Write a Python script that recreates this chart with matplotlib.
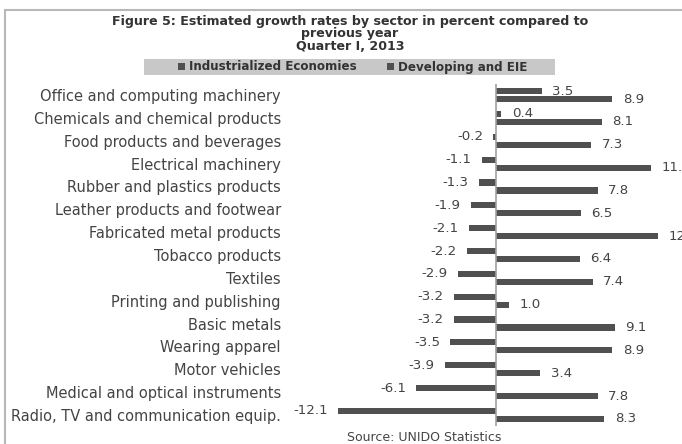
import matplotlib
matplotlib.use("Agg")
import matplotlib.pyplot as plt
from matplotlib.patches import Rectangle, Patch

categories = [
    "Office and computing machinery",
    "Chemicals and chemical products",
    "Food products and beverages",
    "Electrical machinery",
    "Rubber and plastics products",
    "Leather products and footwear",
    "Fabricated metal products",
    "Tobacco products",
    "Textiles",
    "Printing and publishing",
    "Basic metals",
    "Wearing apparel",
    "Motor vehicles",
    "Medical and optical instruments",
    "Radio, TV and communication equip.",
]
industrialized = [3.5, 0.4, -0.2, -1.1, -1.3, -1.9, -2.1, -2.2, -2.9, -3.2, -3.2, -3.5, -3.9, -6.1, -12.1]
developing = [8.9, 8.1, 7.3, 11.9, 7.8, 6.5, 12.4, 6.4, 7.4, 1.0, 9.1, 8.9, 3.4, 7.8, 8.3]
series_names = ["Industrialized Economies", "Developing and EIE"]
title_lines = ["Figure 5: Estimated growth rates by sector in percent compared to",
               "previous year", "Quarter I, 2013"]

W, H = 682, 444
fig = plt.figure(figsize=(W / 100, H / 100), dpi=100)
fig.patch.set_facecolor("white")
FONT = "DejaVu Sans"
bar_color = "#505050"
text_color = "#444444"

# outer frame
fig.add_artist(Rectangle((5 / W, -0.05), 1.2, 1 - 10 / H + 0.05, transform=fig.transFigure,
                         fill=False, edgecolor="#b8b8b8", lw=1.5))

ax = fig.add_axes([285 / W, 1 - 426.4 / H, (682 - 285) / W, (426.4 - 83.6) / H])
n = len(categories)
ys = list(range(n))
off = 0.175
hgt = 0.27
ax.barh([y - off for y in ys], industrialized, height=hgt, color=bar_color)
ax.barh([y + off for y in ys], developing, height=hgt, color=bar_color)
ax.set_ylim(n - 0.5, -0.5)
ax.set_xlim(-16.16, 14.24)
for s in ax.spines.values():
    s.set_visible(False)
ax.axvline(0, color="#a0a0a0", lw=1.2)
ax.set_xticks([])
ax.set_yticks(ys)
ax.set_yticklabels(categories, fontsize=10.5, color=text_color, family=FONT)
ax.tick_params(axis="y", length=0, pad=3)

for y, v in zip(ys, industrialized):
    ax.annotate(f"{v:.1f}", (v, y - off), xytext=(7.5 if v >= 0 else -7.5, 0),
                textcoords="offset points", ha="left" if v >= 0 else "right",
                va="center", fontsize=9.6, color=text_color, family=FONT,
                annotation_clip=False)
for y, v in zip(ys, developing):
    ax.annotate(f"{v:.1f}", (v, y + off), xytext=(7.5, 0),
                textcoords="offset points", ha="left", va="center",
                fontsize=9.6, color=text_color, family=FONT, annotation_clip=False)

for line, ypx in zip(title_lines, [21, 34, 47]):
    fig.text(350 / W, 1 - ypx / H, line, ha="center", va="center", fontsize=9.1,
             fontweight="bold", color="#333333", family=FONT)

# legend
fig.add_artist(Rectangle((144 / W, 1 - 75 / H), 411 / W, 16 / H, transform=fig.transFigure,
                         facecolor="#c8c8c8", edgecolor="none"))
handles = [Patch(facecolor=bar_color), Patch(facecolor=bar_color)]
leg = fig.legend(handles, series_names, loc="center", bbox_to_anchor=(352.5 / W, 1 - 67 / H),
                 ncol=2, frameon=False, handlelength=0.6, handleheight=0.55,
                 handletextpad=0.35, columnspacing=2.5, borderpad=0.2,
                 prop={"family": FONT, "size": 8.6, "weight": "bold"})
for t in leg.get_texts():
    t.set_color("#333333")

fig.text(424 / W, 1 - 437 / H, "Source: UNIDO Statistics", ha="center", va="center",
         fontsize=9, color=text_color, family=FONT)

fig.savefig("out.png", dpi=100, facecolor="white")
